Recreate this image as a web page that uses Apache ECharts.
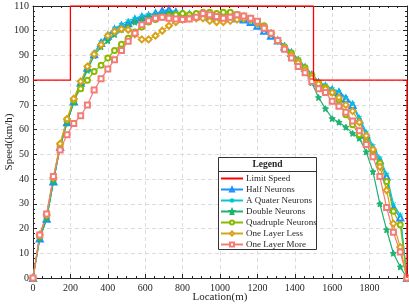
<!DOCTYPE html>
<html>
<head>
<meta charset="utf-8">
<script src="https://cdn.jsdelivr.net/npm/echarts@6/dist/echarts.min.js"></script>
<style>html,body{margin:0;padding:0;background:#fff;}#c{width:409px;height:306px;}</style>
</head>
<body>
<div id="c"></div>
<script>
const locations = [0,36,73,109,145,182,218,255,291,327,364,400,436,473,509,545,582,618,655,691,727,764,800,836,873,909,945,982,1018,1055,1091,1127,1164,1200,1236,1273,1309,1345,1382,1418,1455,1491,1527,1564,1600,1636,1673,1709,1745,1782,1818,1855,1891,1927,1964,2000];
const limitX = [0,200,200,1500,1500,2000,2000];
const limitV = [80,80,110,110,80,80,0];
const halfNeurons = [0,16,24,39,53,63,71.5,79,85,90.5,95,98,100.5,102,103,104.5,105.5,106,107,108,108.5,107.5,107,106.5,106,106,105.5,105.5,105.5,105,105,104.5,103.5,102,100,98,96,93.5,91,88,85,82,79,77.5,76,75,72.5,70,64,58,52.5,47.5,41,28,24.5,0];
const quaterNeurons = [0,16,24,39,53,63,71,79,85.5,91,95.5,98.5,101,102.5,104,105,106,106.5,107,107.5,107.5,107.5,107,107,106.5,106.5,106,106,105.5,105.5,105,104.5,103.5,102,100.5,98.5,96.5,94,91.5,88.5,85.5,82.5,79.5,78,76.5,75.5,73,70.5,65,59,53.5,48.5,42,30,25.5,0];
const doubleNeurons = [0,16,24,39,53,63,71,78,84,90,93.5,96,98.5,100.5,102,103.5,104.5,105.5,106,106.5,107,107,106.5,106.5,106.5,106.5,106.5,106.5,106.5,106.5,106.5,106,105,103.5,101,98.5,96,93,90,87,83.5,79,73,68.5,64.5,63,61,58.5,56.5,51,43,30,19.5,10,4.5,0];
const quadrupleNeurons = [0,17,25.5,40.5,54,64,72,76.5,80,83.5,86,89,92,94.5,97,99.5,101.5,103.5,104.5,105.5,106,106.5,107,106.5,107,107.5,107.5,107,107.5,107.5,106.5,106,105,103.5,102,99,96,93.5,91,88,85,82,79,77,75,72,66,62,58,55,51.5,46.5,39,27,21.5,0];
const oneLayerLess = [0,17.5,25.5,40.5,54.3,64.3,72.5,79.5,85.5,90.5,94.3,98,99.7,100.7,100.4,98.5,96.5,96.5,98,100,102,103.5,104.5,105,105,105,104,103.5,103.5,104,104.5,105,104.5,103,101.5,99,96,93,90,87,84,81,78.5,76.5,75,73,70,67.5,63,57.5,52,45,35.5,22,12.5,0];
const oneLayerMore = [0,17.4,25.9,41,51.8,57.9,62.5,65.6,70,76,80.6,84.5,88.3,92,95.7,99,102.4,104,105,105.5,105,104.7,104.5,104.7,105.5,107,106.5,105.8,105,105.5,106.5,106,105,103.8,101,99,96,92.5,89,85.5,83,79.5,76.5,75,71.5,69.5,67,63.5,59.5,54,49,41,28.5,18.5,10.5,0];
const xTicks = [0,200,400,600,800,1000,1200,1400,1600,1800];
const seriesNames = ['Limit Speed','Half Neurons','A Quater Neurons','Double Neurons','Quadruple Neurons','One Layer Less','One Layer More'];

const FONT = 'Liberation Serif';
const AX = '#262626';
const C = {half:'#1e90ff', quater:'#00c8d2', dbl:'#1db371', quad:'#8cb800', less:'#d9a21b', more:'#f47c76', limit:'#ff0000'};
const pair = arr => locations.map((x,i)=>[x,arr[i]]);
const asterisk = 'path://M0,-10L0,10M-8.66,-5L8.66,5M-8.66,5L8.66,-5';
const star = 'path://M0,-10L2.9,-4L9.5,-3.1L4.7,1.5L5.9,8.1L0,5L-5.9,8.1L-4.7,1.5L-9.5,-3.1L-2.9,-4Z';

function mkSeries(name, data, color, symbol, size) {
  return {
    name, type:'line', data, symbol, symbolSize:size, showSymbol:true,
    lineStyle:{color, width:1.2}, itemStyle:{color, borderColor:color, borderWidth:1},
    animation:false, z:3
  };
}
const chart = echarts.init(document.getElementById('c'), null, {renderer:'canvas'});
const baseAxis = {
  axisLine:{show:true, onZero:false, lineStyle:{color:AX, width:1}},
  axisTick:{show:true, inside:true, length:4, lineStyle:{color:AX}},
};
chart.setOption({
  animation:false,
  backgroundColor:'#fff',
  grid:{left:33, right:2, top:6, bottom:28, containLabel:false, outerBoundsMode:'none'},
  xAxis:[
    Object.assign({type:'value', min:0, max:2000, interval:200, position:'bottom',
      name:'Location(m)', nameLocation:'middle', nameGap:14, nameMoveOverlap:false,
      nameTextStyle:{fontFamily:FONT, fontSize:11, color:AX, verticalAlign:'top'},
      axisLabel:{fontFamily:FONT, fontSize:10, color:AX, margin:5,
        formatter:v=> xTicks.indexOf(v)>=0 ? String(v) : ''},
      splitLine:{show:true, lineStyle:{color:'#dcdcdc', type:[4,3], width:1}}
    }, baseAxis, {minorTick:{show:true, splitNumber:4, length:2, lineStyle:{color:AX}}}),
    Object.assign({type:'value', min:0, max:2000, interval:200, position:'top',
      axisLabel:{show:false}, splitLine:{show:false}}, baseAxis, {minorTick:{show:true, splitNumber:4, length:2, lineStyle:{color:AX}}})
  ],
  yAxis:[
    Object.assign({type:'value', min:0, max:110, interval:10, position:'left',
      name:'Speed(km/h)', nameLocation:'middle', nameGap:18, nameMoveOverlap:false,
      nameTextStyle:{fontFamily:FONT, fontSize:11, color:AX},
      axisLabel:{fontFamily:FONT, fontSize:10, color:AX, margin:4},
      splitLine:{show:true, lineStyle:{color:'#dcdcdc', type:[4,3], width:1}}
    }, baseAxis, {minorTick:{show:true, splitNumber:5, length:2, lineStyle:{color:AX}}}),
    Object.assign({type:'value', min:0, max:110, interval:10, position:'right',
      axisLabel:{show:false}, splitLine:{show:false}}, baseAxis, {minorTick:{show:true, splitNumber:5, length:2, lineStyle:{color:AX}}})
  ],
  legend:{
    orient:'vertical', left:220, top:173, itemWidth:22, itemHeight:5, itemGap:0, z:30,
    data:seriesNames,
    textStyle:{fontFamily:FONT, fontSize:9, color:AX, lineHeight:11, padding:[0,0,0,-2]},
    padding:0
  },
  graphic:[
    {type:'rect', shape:{x:218.5, y:157.5, width:98, height:92}, style:{fill:'#fff', stroke:'#333', lineWidth:1}, z:5, silent:true},
    {type:'line', shape:{x1:218.5, y1:171.5, x2:316.5, y2:171.5}, style:{stroke:'#333', lineWidth:1}, z:6, silent:true},
    {type:'text', x:267.5, y:164.5, style:{text:'Legend', fontFamily:FONT, fontSize:9.5, fontWeight:'bold', fill:AX, align:'center', verticalAlign:'middle'}, z:6, silent:true}
  ],
  series:[
    {name:'Limit Speed', type:'line', data:limitX.map((x,i)=>[x,limitV[i]]), symbol:'rect', symbolSize:2, showSymbol:false,
     lineStyle:{color:C.limit, width:1.3}, itemStyle:{color:'rgba(0,0,0,0)', borderWidth:0}, z:4, animation:false},
    mkSeries('Half Neurons', pair(halfNeurons), C.half, 'emptyTriangle', 6),
    mkSeries('A Quater Neurons', pair(quaterNeurons), C.quater, asterisk, 5),
    mkSeries('Double Neurons', pair(doubleNeurons), C.dbl, star, 6),
    mkSeries('Quadruple Neurons', pair(quadrupleNeurons), C.quad, 'emptyCircle', 5),
    mkSeries('One Layer Less', pair(oneLayerLess), C.less, 'emptyDiamond', 6),
    mkSeries('One Layer More', pair(oneLayerMore), C.more, 'emptyRect', 5)
  ]
});
</script>
</body>
</html>
